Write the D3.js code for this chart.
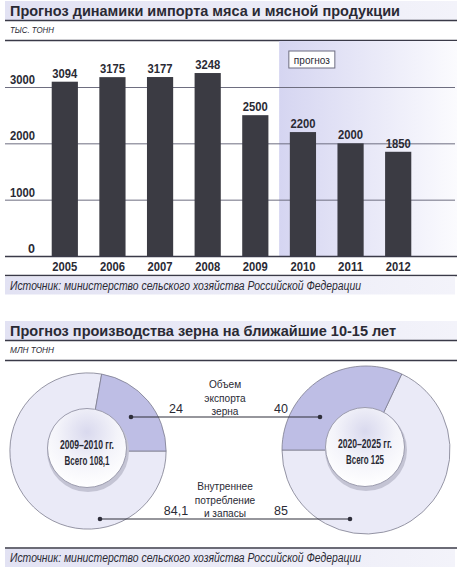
<!DOCTYPE html>
<meta charset="utf-8">
<style>
body { margin: 0; background: #fff; }
text { font-family: "Liberation Sans", Arial, sans-serif; fill: #2a2a34; }
.title { font-weight: bold; font-size: 15px; }
.units { font-style: italic; font-size: 9px; }
.src { font-style: italic; font-size: 12.5px; }
.tick { font-weight: bold; font-size: 12.5px; }
.val { font-weight: bold; font-size: 12.5px; text-anchor: middle; }
.note { font-size: 11.5px; text-anchor: middle; }
.num { font-size: 12.5px; text-anchor: middle; }
.center { font-weight: bold; font-size: 12.5px; text-anchor: middle; }
</style>
<svg width="460" height="569"></svg>
<script src="https://d3js.org/d3.v7.min.js"></script>
<script>

// --- meat imports, thousand tonnes
var years = ["2005", "2006", "2007", "2008", "2009", "2010", "2011", "2012"];
var imports = [3094, 3175, 3177, 3248, 2500, 2200, 2000, 1850];
var forecastFrom = "2010";
var yTicks = [0, 1000, 2000, 3000];

// --- grain production, million tonnes
var periods = ["2009–2010 гг.", "2020–2025 гг."];
var exportVals = [24, 40];
var domesticVals = [84.1, 85];

var title1 = "Прогноз динамики импорта мяса и мясной продукции";
var title2 = "Прогноз производства зерна на ближайшие 10-15 лет";
var units1 = "ТЫС. ТОНН";
var units2 = "МЛН ТОНН";
var source = "Источник: министерство сельского хозяйства Российской Федерации";

var svg = d3.select("svg");
var ink = "#3a3a48";
var ru = d3.formatLocale({decimal: ",", thousands: " ", grouping: [3], currency: ["", ""]});
var fmt = ru.format("~f");

var defs = svg.append("defs");
var band = defs.append("linearGradient").attr("id", "band");
band.append("stop").attr("offset", "0%").attr("stop-color", "#e2e2f3");
band.append("stop").attr("offset", "100%").attr("stop-color", "#f3f3fa");
var fade = defs.append("linearGradient").attr("id", "fade");
fade.append("stop").attr("offset", "0%").attr("stop-color", "#d5d5f1");
fade.append("stop").attr("offset", "100%").attr("stop-color", "#fbfbfe");
var btn = defs.append("radialGradient").attr("id", "btn")
    .attr("cx", "50%").attr("cy", "30%").attr("r", "70%");
btn.append("stop").attr("offset", "0%").attr("stop-color", "#d9d9ee");
btn.append("stop").attr("offset", "55%").attr("stop-color", "#f4f4fa");
btn.append("stop").attr("offset", "100%").attr("stop-color", "#ffffff");

// narrow the glyphs to the width of the condensed face in the original
function squeeze(sel, len) {
  return sel.attr("textLength", len).attr("lengthAdjust", "spacingAndGlyphs");
}

function header(y, text, len, units) {
  svg.append("rect").attr("x", 5).attr("y", y).attr("width", 452).attr("height", 19)
      .attr("fill", "url(#band)");
  squeeze(svg.append("text").attr("class", "title").attr("x", 10).attr("y", y + 14.5), len)
      .text(text);
  svg.append("line").attr("x1", 5).attr("x2", 457).attr("y1", y + 19.5).attr("y2", y + 19.5)
      .attr("stroke", ink).attr("stroke-width", 1.5);
  squeeze(svg.append("text").attr("class", "units").attr("x", 10).attr("y", y + 32), 44)
      .text(units);
  svg.append("line").attr("x1", 5).attr("x2", 457).attr("y1", y + 39.5).attr("y2", y + 39.5)
      .attr("stroke", ink).attr("stroke-width", 1.5);
}

function footer(y) {
  svg.append("line").attr("x1", 5).attr("x2", 457).attr("y1", y).attr("y2", y)
      .attr("stroke", ink).attr("stroke-width", 1.5);
  svg.append("rect").attr("x", 5).attr("y", y + 1).attr("width", 450).attr("height", 18)
      .attr("fill", "url(#band)");
  squeeze(svg.append("text").attr("class", "src").attr("x", 10).attr("y", y + 14), 351)
      .text(source);
}

// ================= bar chart =================
header(1, title1, 390, units1);

var x = d3.scaleBand().domain(years).range([41, 422]).paddingInner(0.45).paddingOuter(0.225);
var y = d3.scaleLinear().domain([0, 3000]).range([256, 87]);

var gap = x.step() - x.bandwidth();
svg.append("rect")
    .attr("x", x(forecastFrom) - gap / 2).attr("y", 41)
    .attr("width", 457 - (x(forecastFrom) - gap / 2)).attr("height", y(0) - 41)
    .attr("fill", "url(#fade)");

var pg = svg.append("g").attr("transform", "translate(" + (x(forecastFrom) - 1) + ",51)");
pg.append("rect").attr("width", 46).attr("height", 17).attr("fill", "#fff")
    .attr("stroke", "#6d6d80").attr("stroke-width", 1);
squeeze(pg.append("text").attr("x", 23).attr("y", 12.5).attr("text-anchor", "middle")
    .style("font-size", "11.5px"), 36).text("прогноз");

svg.append("g").selectAll("line").data(yTicks.filter(function(d) { return d > 0; }))
  .enter().append("line")
    .attr("x1", 5).attr("x2", 455)
    .attr("y1", function(d) { return y(d) + 0.5; })
    .attr("y2", function(d) { return y(d) + 0.5; })
    .attr("stroke", "#6e6e80").attr("stroke-width", 1);

svg.append("g").selectAll("text").data(yTicks).enter().append("text")
    .attr("class", "tick").attr("text-anchor", "end")
    .attr("x", 35).attr("y", function(d) { return y(d) - 3; })
    .each(function(d) { if (d > 0) squeeze(d3.select(this), 25); })
    .text(function(d) { return d; });

svg.append("g").selectAll("rect").data(imports).enter().append("rect")
    .attr("x", function(d, i) { return x(years[i]); })
    .attr("width", x.bandwidth())
    .attr("y", function(d) { return y(d); })
    .attr("height", function(d) { return y(0) - y(d); })
    .attr("fill", "#3b3b43");

squeeze(svg.append("g").selectAll("text").data(imports).enter().append("text")
    .attr("class", "val")
    .attr("x", function(d, i) { return x(years[i]) + x.bandwidth() / 2; })
    .attr("y", function(d) { return y(d) - 4; }), 25)
    .text(function(d) { return d; });

svg.append("line").attr("x1", 5).attr("x2", 457).attr("y1", y(0) + 0.5).attr("y2", y(0) + 0.5)
    .attr("stroke", ink).attr("stroke-width", 1.6);

squeeze(svg.append("g").selectAll("text").data(years).enter().append("text")
    .attr("class", "tick").attr("text-anchor", "middle")
    .attr("x", function(d) { return x(d) + x.bandwidth() / 2; })
    .attr("y", 271), 25)
    .text(function(d) { return d; });

footer(275.5);

// ================= donuts =================
header(321, title2, 386, units2);

var totals = exportVals.map(function(d, i) { return d + domesticVals[i]; });
var r = d3.scaleSqrt().domain([0, d3.max(totals)]).range([0, 84]);
var rIn = 41;
var centers = [[88, 451], [366, 450]];
var side = [1, -1]; // which way the export slice faces

var arc = d3.arc();
var tau = 2 * Math.PI;

periods.forEach(function(p, i) {
  var R = r(totals[i]);
  var frac = exportVals[i] / totals[i];
  var a0, a1;
  if (side[i] > 0) { a0 = Math.PI / 2 - frac * tau; a1 = Math.PI / 2; }
  else { a0 = -Math.PI / 2; a1 = -Math.PI / 2 + frac * tau; }
  var slices = [
    {v: domesticVals[i], s: a1, e: a0 + tau, fill: "#eaeaf7"},
    {v: exportVals[i], s: a0, e: a1, fill: "#bebee5"}
  ];
  var g = svg.append("g").attr("transform", "translate(" + centers[i] + ")");
  g.selectAll("path").data(slices).enter().append("path")
      .attr("d", function(d) {
        return arc({innerRadius: rIn - 2, outerRadius: R, startAngle: d.s, endAngle: d.e});
      })
      .attr("fill", function(d) { return d.fill; })
      .attr("stroke", "#7c7c8e").attr("stroke-width", 0.8);

  g.append("circle").attr("r", rIn).attr("cy", 0).attr("cx", 0)
      .attr("fill", "#c4c4d4");
  g.append("circle").attr("r", rIn - 1.5).attr("cy", -3).attr("cx", -1)
      .attr("fill", "url(#btn)").attr("stroke", "#9c9cae").attr("stroke-width", 1);
  squeeze(g.append("text").attr("class", "center").attr("x", -1).attr("y", -2), 54).text(p);
  squeeze(g.append("text").attr("class", "center").attr("x", -1).attr("y", 14),
      totals[i] % 1 ? 45 : 38).text("Всего " + fmt(totals[i]));
});

// connector lines between the two donuts
var rows = [
  {dy: -34, dx: [43, -46], vals: exportVals, note: ["Объем", "экспорта", "зерна"]},
  {dy: 68, dx: [12, -16], vals: domesticVals, note: ["Внутреннее", "потребление", "и запасы"]}
];
var midX = (centers[0][0] + centers[1][0]) / 2 - 2;
rows.forEach(function(row) {
  var ly = centers[0][1] + row.dy;
  var xa = centers[0][0] + row.dx[0], xb = centers[1][0] + row.dx[1];
  svg.append("line").attr("x1", xa).attr("x2", xb).attr("y1", ly).attr("y2", ly)
      .attr("stroke", "#2e2e3a").attr("stroke-width", 1.2);
  svg.append("circle").attr("cx", xa).attr("cy", ly).attr("r", 2.3).attr("fill", "#2e2e3a");
  svg.append("circle").attr("cx", xb).attr("cy", ly).attr("r", 2.3).attr("fill", "#2e2e3a");
  svg.append("text").attr("class", "num").attr("x", midX - 49).attr("y", ly - 4)
      .text(fmt(row.vals[0]));
  svg.append("text").attr("class", "num").attr("x", midX + 56).attr("y", ly - 4)
      .text(fmt(row.vals[1]));
  row.note.forEach(function(t, k) {
    var el = svg.append("text").attr("class", "note").attr("x", midX)
        .attr("y", ly - 2 - (row.note.length - 1 - k) * 13.5);
    el.text(t);
    var w = el.node().getComputedTextLength();
    squeeze(el, w * 0.88);
  });
});

footer(548);

</script>
